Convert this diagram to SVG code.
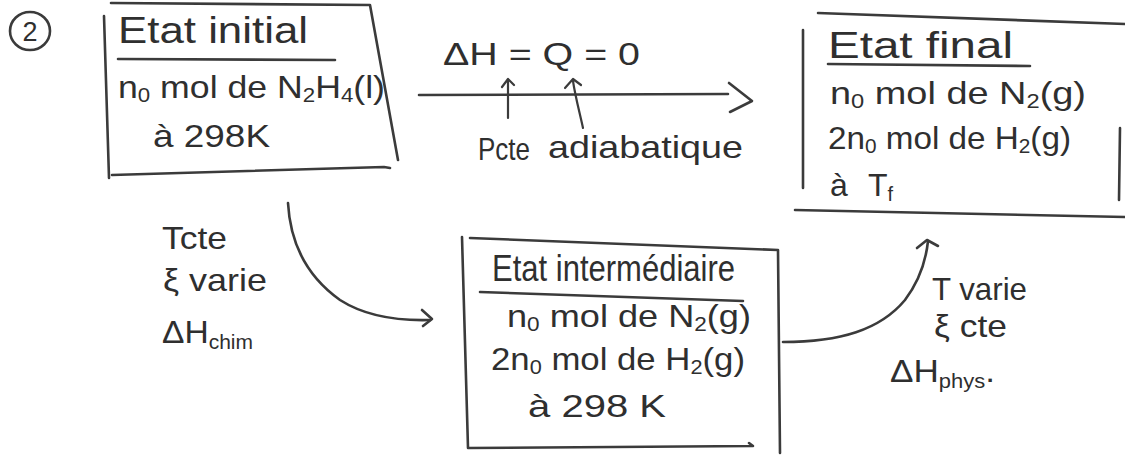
<svg xmlns="http://www.w3.org/2000/svg" width="1125" height="458" viewBox="0 0 1125 458">
  <style>
    .ink { fill: none; stroke: #3b3b3b; stroke-width: 2.6; stroke-linecap: round; stroke-linejoin: round; }
    .thin { stroke-width: 2.2; }
    text { font-family: "Liberation Sans", Arial, sans-serif; fill: #2f2f2f; }
    .title { font-size: 37px; }
    .body { font-size: 32px; }
    .note { font-size: 32px; }
    .sub { font-size: 20px; }
  </style>
  <rect width="1125" height="458" fill="#ffffff"/>

  <!-- question number -->
  <g id="num">
    <ellipse class="ink" cx="30" cy="31" rx="20" ry="19"/>
    <text x="30" y="41" font-size="27" text-anchor="middle">2</text>
  </g>

  <!-- initial state -->
  <g id="etat-initial">
    <path class="ink" d="M104,16 L109,178 M111,3 L370,5 L398,160 M112,175 L384,167 L390,168"/>
    <text class="title" x="118" y="43" textLength="190" lengthAdjust="spacingAndGlyphs">Etat initial</text>
    <path class="ink" d="M118,59 L335,60"/>
    <text class="body" x="118" y="98" textLength="267" lengthAdjust="spacingAndGlyphs">n<tspan class="sub" baseline-shift="-4">0</tspan> mol de N<tspan class="sub" baseline-shift="-4">2</tspan>H<tspan class="sub" baseline-shift="-4">4</tspan>(l)</text>
    <text class="body" x="153" y="147" textLength="117" lengthAdjust="spacingAndGlyphs">à 298K</text>
  </g>

  <!-- final state -->
  <g id="etat-final">
    <path class="ink" d="M818,13 L1125,24 M803,30 L803,188 M795,210 L1125,217 M1120,128 L1119,200"/>
    <text class="title" x="828" y="58" textLength="185" lengthAdjust="spacingAndGlyphs">Etat final</text>
    <path class="ink" d="M828,64 L1030,66"/>
    <text class="body" x="830" y="104" textLength="256" lengthAdjust="spacingAndGlyphs">n<tspan class="sub" baseline-shift="-4">0</tspan> mol de N<tspan class="sub" baseline-shift="-4">2</tspan>(g)</text>
    <text class="body" x="828" y="149" textLength="243" lengthAdjust="spacingAndGlyphs">2n<tspan class="sub" baseline-shift="-4">0</tspan> mol de H<tspan class="sub" baseline-shift="-4">2</tspan>(g)</text>
    <text class="body" x="830" y="196">à<tspan x="868">T</tspan><tspan class="sub" baseline-shift="-5">f</tspan></text>
  </g>

  <!-- intermediate state -->
  <g id="etat-intermediaire">
    <path class="ink" d="M462,237 L468,448 M470,238 L778,250 L780,453 M468,448 L753,446 L749,443"/>
    <text class="title" x="492" y="281" textLength="243" lengthAdjust="spacingAndGlyphs">Etat intermédiaire</text>
    <path class="ink" d="M480,292 L743,301"/>
    <text class="body" x="507" y="327" textLength="244" lengthAdjust="spacingAndGlyphs">n<tspan class="sub" baseline-shift="-4">0</tspan> mol de N<tspan class="sub" baseline-shift="-4">2</tspan>(g)</text>
    <text class="body" x="491" y="370" textLength="254" lengthAdjust="spacingAndGlyphs">2n<tspan class="sub" baseline-shift="-4">0</tspan> mol de H<tspan class="sub" baseline-shift="-4">2</tspan>(g)</text>
    <text class="body" x="528" y="417" textLength="138" lengthAdjust="spacingAndGlyphs">à 298 K</text>
  </g>

  <!-- connectors -->
  <g id="connectors">
    <!-- direct path: initial to final -->
    <path class="ink" d="M419,95 L728,94"/>
    <path class="ink" d="M729,83 L752,101 L730,112"/>
    <!-- markers under the equation -->
    <path class="ink thin" d="M508,118 L508,80 M502,87 L508,79 L514,85"/>
    <path class="ink thin" d="M583,128 C579,110 575,95 573,81 M565,88 L573,79 L581,85"/>
    <!-- step 1: reaction at fixed T -->
    <path class="ink" d="M288,203 C290,240 305,275 340,300 C365,316 395,321 430,320"/>
    <path class="ink" d="M422,310 L432,319 L423,326"/>
    <!-- step 2: heating at fixed extent -->
    <path class="ink" d="M783,342 C840,342 880,330 905,300 C920,280 926,260 928,241"/>
    <path class="ink" d="M917,248 L927,240 L938,246"/>
  </g>

  <!-- labels -->
  <g id="labels">
    <text class="body" x="443" y="65" textLength="197" lengthAdjust="spacingAndGlyphs">ΔH = Q = 0</text>
    <text class="note" x="478" y="160" textLength="52" lengthAdjust="spacingAndGlyphs">Pcte</text>
    <text class="note" x="548" y="158" textLength="195" lengthAdjust="spacingAndGlyphs">adiabatique</text>

    <text class="note" x="162" y="249" textLength="65" lengthAdjust="spacingAndGlyphs">Tcte</text>
    <text class="note" x="163" y="291" textLength="104" lengthAdjust="spacingAndGlyphs">ξ varie</text>
    <text class="note" x="162" y="343" textLength="91" lengthAdjust="spacingAndGlyphs">ΔH<tspan class="sub" baseline-shift="-6">chim</tspan></text>

    <text class="note" x="932" y="300" textLength="95" lengthAdjust="spacingAndGlyphs">T varie</text>
    <text class="note" x="934" y="337" textLength="73" lengthAdjust="spacingAndGlyphs">ξ cte</text>
    <text class="note" x="890" y="382" textLength="105" lengthAdjust="spacingAndGlyphs">ΔH<tspan class="sub" baseline-shift="-6">phys</tspan>.</text>
  </g>
</svg>
